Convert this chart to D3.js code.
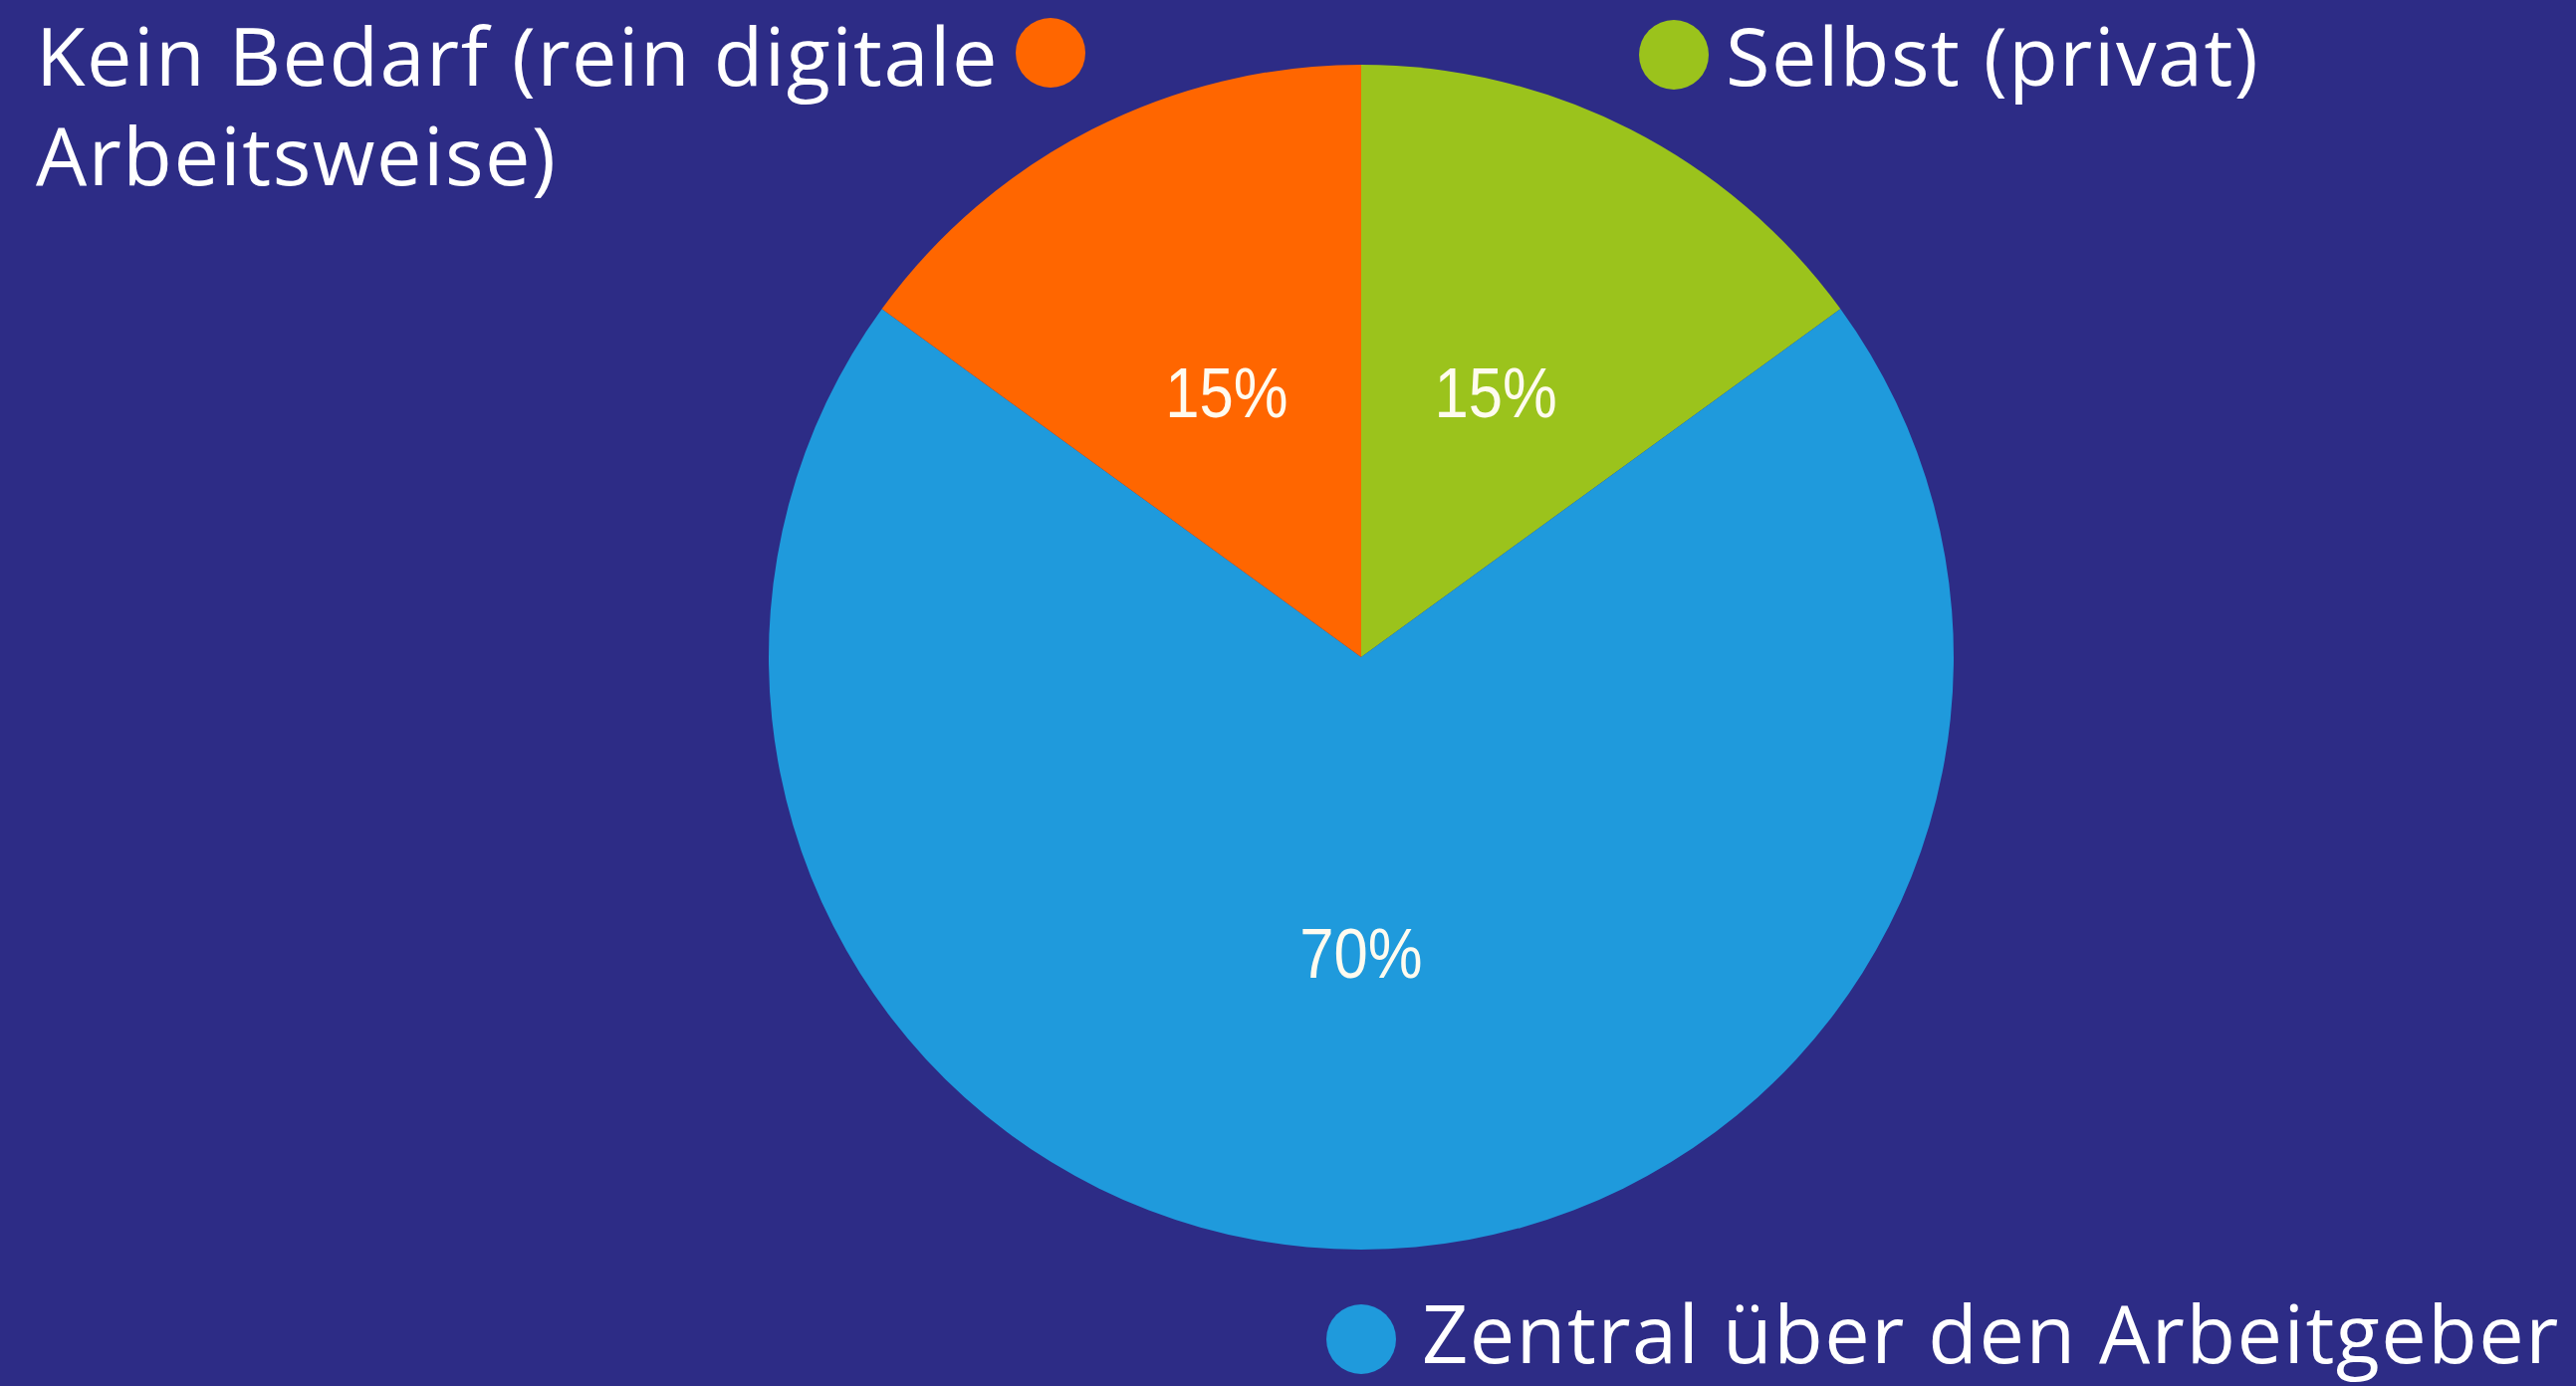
<!DOCTYPE html>
<html>
<head>
<meta charset="utf-8">
<script src="https://cdn.jsdelivr.net/npm/d3@7"></script>
<style>
  html, body { margin: 0; padding: 0; background: #2d2c86; }
  svg { display: block; }
  .legend text { font-family: "Open Sans", Lato, sans-serif; fill: #fff; letter-spacing: 1.5px; }
  .pct { font-family: "Liberation Sans", Arial, sans-serif; fill: #fffbef; }
</style>
</head>
<body>
<svg id="chart"></svg>
<script>
// Pie chart -- where does the equipment come from

var categories = ["Selbst (privat)", "Zentral über den Arbeitgeber", "Kein Bedarf (rein digitale Arbeitsweise)"];
var values = [15, 70, 15];
var colors = ["#9bc31c", "#1f9adc", "#ff6600"];
var pctLabels = ["15%", "70%", "15%"];

var width = 2587, height = 1392;
var cx = 1367, cy = 660, radius = 595;

var svg = d3.select("#chart")
  .attr("width", width)
  .attr("height", height);

svg.append("rect")
  .attr("width", width)
  .attr("height", height)
  .attr("fill", "#2d2c86");

var pie = d3.pie().sort(null).value(function (d) { return d; });
var arc = d3.arc().innerRadius(0).outerRadius(radius);
var arcs = pie(values);

var g = svg.append("g").attr("transform", "translate(" + cx + "," + cy + ")");

g.selectAll("path")
  .data(arcs)
  .enter().append("path")
  .attr("d", arc)
  .attr("fill", function (d, i) { return colors[i]; });

g.selectAll("text.pct")
  .data(arcs)
  .enter().append("text")
  .attr("class", "pct")
  .attr("transform", function (d) { return "translate(" + arc.centroid(d) + ") scale(0.88,1)"; })
  .attr("text-anchor", "middle")
  .attr("dy", "0.35em")
  .style("font-size", "70px")
  .text(function (d, i) { return pctLabels[i]; });

///////////////////////////////////////////////////////////////////////////////
// Legend labels around the pie

var legendItems = [
  // green: dot left, text right
  { idx: 0, dot: [1681, 55], lines: ["Selbst (privat)"], x: 1733, y: 86 },
  // blue: dot left, text right, below pie
  { idx: 1, dot: [1367, 1345], lines: ["Zentral über den Arbeitgeber"], x: 1428, y: 1369 },
  // orange: text left, dot right
  { idx: 2, dot: [1055, 53], lines: ["Kein Bedarf (rein digitale", "Arbeitsweise)"], x: 36, y: 86 }
];

var legend = svg.append("g").attr("class", "legend");

legendItems.forEach(function (item) {
  legend.append("circle")
    .attr("cx", item.dot[0])
    .attr("cy", item.dot[1])
    .attr("r", 35)
    .attr("fill", colors[item.idx]);

  var t = legend.append("text")
    .attr("x", item.x)
    .attr("y", item.y)
    .style("font-size", "81px");
  item.lines.forEach(function (line, k) {
    t.append("tspan")
      .attr("x", item.x)
      .attr("dy", k === 0 ? 0 : 100)
      .text(line);
  });
});
</script>
</body>
</html>
